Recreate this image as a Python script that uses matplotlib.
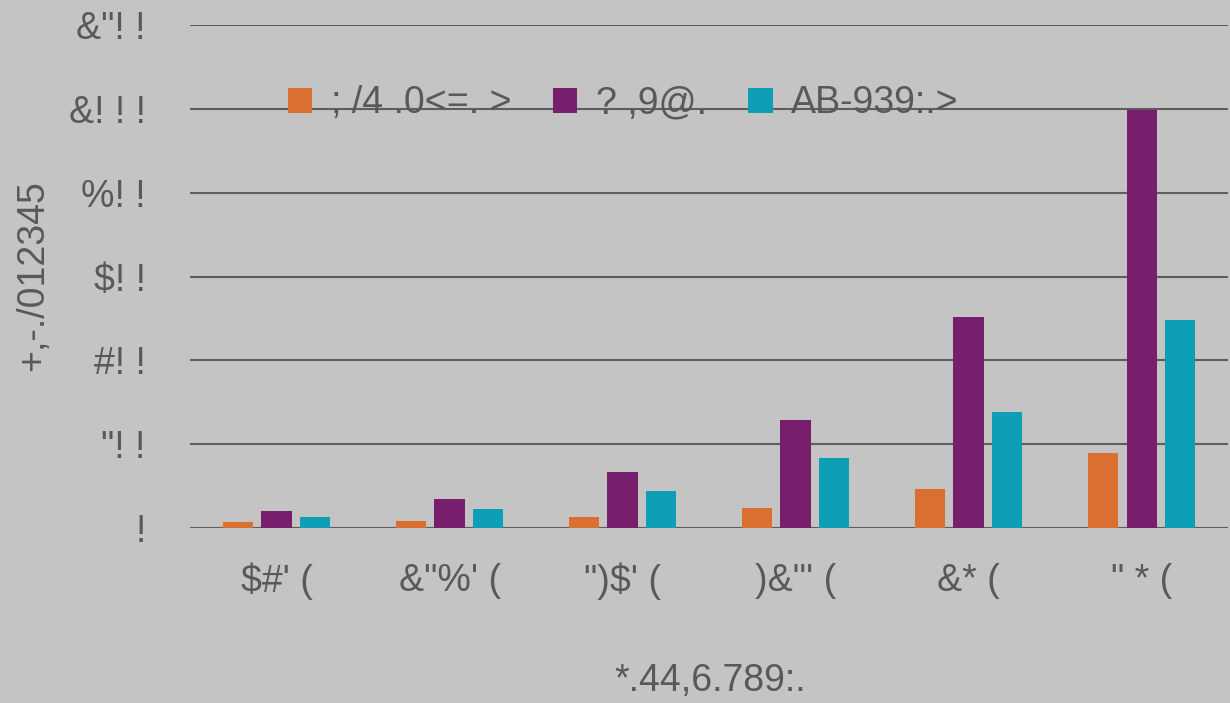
import matplotlib
matplotlib.use("Agg")
import matplotlib.pyplot as plt
import numpy as np

# Chart data (one grid step = 100)
categories = ["$#' (", "&\"%' (", "\")$' (", ")&\"' (", "&* (", "\" * ("]
series_names = ["; /4 .0<=. >", "? ,9@.", "AB-939:.>"]
orange_vals = [7, 8, 13, 24, 46, 89]
purple_vals = [20, 35, 67, 129, 252, 499]
teal_vals = [13, 23, 44, 83, 138, 248]
y_ticks = [0, 100, 200, 300, 400, 500, 600]
y_tick_labels = ["!", "\"! !", "#! !", "$! !", "%! !", "&! ! !", "&\"! !"]
y_title = "+,-./012345"
x_title = "*.44,6.789:."

colors = ["#d97031", "#771e6c", "#0e9fb6"]
bg = "#c4c4c4"
txt = "#595959"

plt.rcParams["font.family"] = ["Liberation Sans", "DejaVu Sans"]

fig = plt.figure(figsize=(12.3, 7.03), dpi=100, facecolor=bg)
ax = fig.add_axes([0.1545, 0.249, 0.844, 0.715])
ax.set_facecolor(bg)

x = np.arange(len(categories))
width = 0.175
step = 0.222
for i, (vals, name) in enumerate(zip([orange_vals, purple_vals, teal_vals], series_names)):
    ax.bar(x + (i - 1) * step, vals, width, color=colors[i], label=name, zorder=3)

ax.set_xlim(-0.5, len(categories) - 0.5)
ax.set_ylim(0, 600)
ax.set_yticks(y_ticks)
ax.set_yticklabels(y_tick_labels)
ax.set_xticks(x)
ax.set_xticklabels(categories)
ax.tick_params(length=0, labelsize=27, colors=txt)
ax.tick_params(axis="y", pad=32)
ax.tick_params(axis="x", pad=25)
ax.yaxis.grid(True, color="#5e5e5e", linewidth=1.5, zorder=1)
for s in ax.spines.values():
    s.set_visible(False)

ax.set_ylabel(y_title, fontsize=27, color=txt, va="center")
ax.yaxis.set_label_coords(-0.151, 0.503)
ax.set_xlabel(x_title, fontsize=27, color=txt, va="center")
ax.xaxis.set_label_coords(0.501, -0.305)

leg = ax.legend(loc="center left", bbox_to_anchor=(0.0944, 0.845), ncol=3, frameon=False,
                fontsize=27, labelcolor=txt, handlelength=0.65, handleheight=0.65,
                handletextpad=0.5, columnspacing=1.1, borderpad=0, borderaxespad=0)

fig.savefig("out.png", dpi=100, facecolor=bg)
